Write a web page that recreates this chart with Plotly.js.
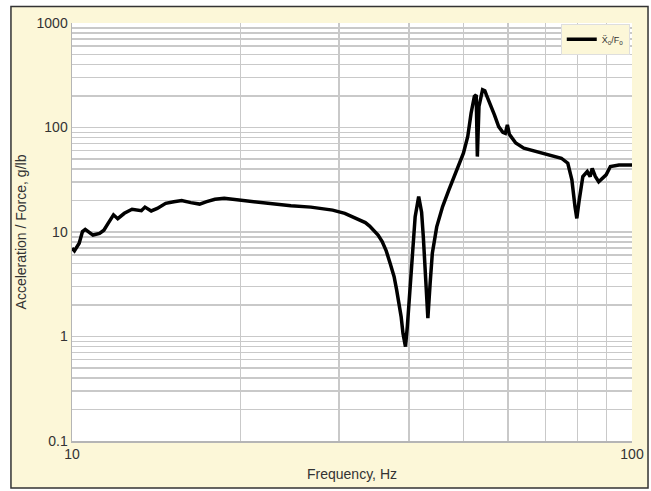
<!DOCTYPE html>
<html>
<head>
<meta charset="utf-8">
<script src="https://cdn.plot.ly/plotly-3.0.1.min.js"></script>
<style>html,body{margin:0;padding:0;background:#fff;}#chart{width:651px;height:491px;}</style>
</head>
<body>
<div id="chart"></div>
<script>
// Frequency (Hz)
var frequency = [10, 10.1, 10.3, 10.44, 10.56, 10.7, 10.9, 11.2, 11.4, 11.6,
  11.86, 12.07, 12.4, 12.8, 13.3, 13.5, 13.85, 14.2, 14.7, 15.2,
  15.7, 16.3, 16.9, 17.4, 18.0, 18.7, 19.3, 20.0, 21.4, 22.9,
  24.6, 26.7, 29.2, 30.7, 32.3, 33.4, 34.0, 34.6, 35.2, 35.8,
  36.4, 37.0, 37.6, 38.0, 38.5, 38.7, 39.0, 39.4, 39.7, 40.3,
  41.0, 41.6, 42.1, 42.4, 42.7, 43.0, 43.2, 43.6, 44.0, 44.8,
  45.9, 47.1, 48.7, 50.0, 50.9, 51.6, 52.3, 52.7, 52.95, 53.3,
  54.1, 54.6, 54.95, 55.9, 56.8, 57.8, 58.8, 59.4, 59.9, 60.4,
  62.0, 64.1, 67.4, 71.0, 74.8, 76.8, 78.1, 79.1, 79.7, 80.5,
  81.7, 83.2, 84.2, 84.9, 86.0, 87.2, 88.4, 89.9, 91.5, 94.8,
  100];
// Acceleration / Force (g/lb)
var accelForce = [7.0, 6.6, 7.8, 10.1, 10.6, 10.0, 9.35, 9.7, 10.4, 12.1,
  14.6, 13.4, 15.1, 16.5, 16.0, 17.3, 15.9, 16.8, 18.8, 19.5,
  20.0, 19.1, 18.5, 19.5, 20.6, 21.0, 20.6, 20.3, 19.3, 18.5,
  17.8, 17.3, 16.2, 15.1, 13.4, 12.3, 11.4, 10.4, 9.35, 8.1,
  6.6, 5.0, 3.73, 2.78, 1.92, 1.55, 1.07, 0.80, 1.24, 4.0,
  14.0, 21.8, 15.5, 9.0, 4.6, 2.2, 1.5, 3.2, 6.25, 11.2,
  17.5, 25.3, 39.3, 56.8, 82, 137, 198, 205, 52.7, 159,
  230, 225, 205, 165, 132, 102, 90, 88, 106, 86,
  71, 63.4, 58.9, 54.7, 50.8, 45.5, 31.5, 17.5, 13.5, 20.3,
  33.9, 37.9, 33.9, 40.7, 34, 30.3, 32.5, 35.2, 42.3, 43.8,
  43.8];

var seriesName = 'Ẍ<sub>o</sub>/F<sub>o</sub>';

// Tick positions: every 1..9 per decade for gridlines; labels only at decades
var xTickVals = [10,20,30,40,50,60,70,80,90,100];
var xTickText = ['10','','','','','','','','','100'];
var yTickVals = [0.1,0.2,0.3,0.4,0.5,0.6,0.7,0.8,0.9,
  1,2,3,4,5,6,7,8,9,10,20,30,40,50,60,70,80,90,100,
  200,300,400,500,600,700,800,900,1000];
var yTickText = yTickVals.map(function(v){
  return [0.1,1,10,100,1000].indexOf(v) >= 0 ? String(v) : '';
});

var beige = '#fcf7d8';
var gridC = '#c9c9c9';

var trace = {
  x: frequency, y: accelForce, type: 'scatter', mode: 'lines',
  name: seriesName,
  line: {color: '#000', width: 3.5}
};

var layout = {
  width: 651, height: 491,
  margin: {l: 72, r: 19, t: 23, b: 50},
  paper_bgcolor: beige,
  plot_bgcolor: '#ffffff',
  font: {family: 'Liberation Sans, Arial, sans-serif', color: '#333'},
  showlegend: true,
  legend: {x: 0.996, y: 0.998, xanchor: 'right', yanchor: 'top',
    bgcolor: beige, bordercolor: '#dedede', borderwidth: 1,
    font: {size: 9, color: '#333'}},
  xaxis: {type: 'log', range: [1, 2], tickvals: xTickVals, ticktext: xTickText,
    showgrid: true, gridcolor: gridC, gridwidth: 1.5,
    showline: true, linecolor: '#b5b5b5', linewidth: 1.5,
    ticks: '', zeroline: false, tickfont: {size: 14, color: '#333'},
    title: {text: 'Frequency, Hz', font: {size: 14, color: '#333'}, standoff: 8}},
  yaxis: {type: 'log', range: [-1, 3], tickvals: yTickVals, ticktext: yTickText,
    showgrid: true, gridcolor: gridC, gridwidth: 1.5,
    showline: true, linecolor: '#b5b5b5', linewidth: 1.5,
    ticks: '', zeroline: false, tickfont: {size: 14, color: '#333'},
    title: {text: 'Acceleration / Force, g/lb', font: {size: 14, color: '#333'}, standoff: 6}},
  shapes: [
    // white surround outside frame
    {type: 'rect', xref: 'paper', yref: 'paper', x0: -0.2, x1: -0.109, y0: -0.2, y1: 1.2, fillcolor: '#fff', line: {width: 0}, layer: 'above'},
    {type: 'rect', xref: 'paper', yref: 'paper', x0: 1.0286, x1: 1.2, y0: -0.2, y1: 1.2, fillcolor: '#fff', line: {width: 0}, layer: 'above'},
    {type: 'rect', xref: 'paper', yref: 'paper', x0: -0.2, x1: 1.2, y0: 1.0395, y1: 1.2, fillcolor: '#fff', line: {width: 0}, layer: 'above'},
    {type: 'rect', xref: 'paper', yref: 'paper', x0: -0.2, x1: 1.2, y0: -0.2, y1: -0.1126, fillcolor: '#fff', line: {width: 0}, layer: 'above'},
    // frame border
    {type: 'rect', xref: 'paper', yref: 'paper', x0: -0.109, x1: 1.0286, y0: -0.1126, y1: 1.0395, fillcolor: 'rgba(0,0,0,0)', line: {color: '#333', width: 1.5}, layer: 'above'}
  ]
};

Plotly.newPlot('chart', [trace], layout, {staticPlot: true, displayModeBar: false});
</script>
</body>
</html>
